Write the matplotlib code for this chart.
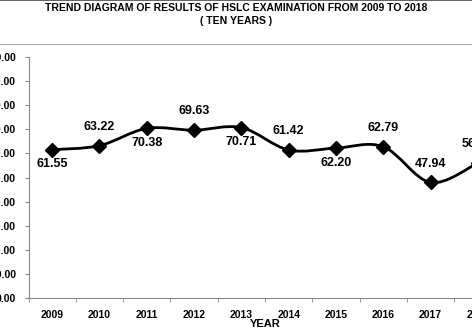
import matplotlib.pyplot as plt
import numpy as np
from matplotlib.path import Path
from matplotlib.patches import PathPatch, Rectangle

plt.rcParams['font.family'] = ['Liberation Sans', 'DejaVu Sans']

years = ['2009', '2010', '2011', '2012', '2013', '2014', '2015', '2016', '2017', '2018']
pass_pct = [61.55, 63.22, 70.38, 69.63, 70.71, 61.42, 62.20, 62.79, 47.94, 56.04]
label_above = [False, True, False, True, False, True, False, True, True, True]


def smooth_path(xs, ys, t=1 / 6):
    # cubic bezier through every point, tangents from neighbours
    n = len(xs)
    verts = [(xs[0], ys[0])]
    codes = [Path.MOVETO]
    for i in range(n - 1):
        x0, y0 = xs[max(i - 1, 0)], ys[max(i - 1, 0)]
        x1, y1 = xs[i], ys[i]
        x2, y2 = xs[i + 1], ys[i + 1]
        x3, y3 = xs[min(i + 2, n - 1)], ys[min(i + 2, n - 1)]
        c1 = (x1 + (x2 - x0) * t, y1 + (y2 - y0) * t)
        c2 = (x2 - (x3 - x1) * t, y2 - (y3 - y1) * t)
        verts += [c1, c2, (x2, y2)]
        codes += [Path.CURVE4] * 3
    return Path(verts, codes)


fig = plt.figure(figsize=(4.72, 3.32), dpi=100)

# rule under the heading and thin border at the top
fig.patches.append(Rectangle((0, 1 - 45 / 332), 1, 1.5 / 332, transform=fig.transFigure,
                             facecolor='#a8a8a8', edgecolor='none', figure=fig))
fig.patches.append(Rectangle((0, 1 - 1 / 332), 1, 1 / 332, transform=fig.transFigure,
                             facecolor='#666666', edgecolor='none', figure=fig))

# plot area runs past the right edge of the sheet
ax = fig.add_axes([28.5 / 472, 34 / 332, 473 / 472, 241 / 332])

x = np.arange(len(years))
ax.add_patch(PathPatch(smooth_path(x, pass_pct), fill=False, lw=2, color='black'))
ax.plot(x, pass_pct, ls='none', marker='D', ms=7, color='black')

for xi, v, up in zip(x, pass_pct, label_above):
    ax.annotate(f'{v:.2f}', (xi, v), xytext=(0, 13.5 if up else -10.5),
                textcoords='offset points', ha='center', va='center',
                fontsize=9, fontweight='bold')

ax.set_xlim(-0.5, len(years) - 0.5)
ax.set_ylim(0, 100)
ax.set_yticks(np.arange(0, 101, 10))
ax.set_yticklabels([f'{v:.2f}' for v in np.arange(0, 101, 10)], fontsize=7.5, fontweight='bold')
ax.set_xticks(x)
ax.set_xticklabels(years, fontsize=7.5, fontweight='bold')
ax.set_xticks(np.arange(-0.5, len(years)), minor=True)
ax.tick_params(axis='x', which='major', length=0, pad=9)
ax.tick_params(axis='x', which='minor', length=3, color='#888888')
ax.tick_params(axis='y', length=3, color='#888888', pad=6)
ax.set_xlabel('YEAR', fontsize=8, fontweight='bold', labelpad=-1)

for side in ['top', 'right']:
    ax.spines[side].set_visible(False)
ax.spines['left'].set_color('#888888')
ax.spines['bottom'].set_color('#888888')

fig.text(0.5, 1 - 8 / 332, 'TREND DIAGRAM OF RESULTS OF HSLC EXAMINATION FROM 2009 TO 2018',
         ha='center', va='center', fontsize=7.5, fontweight='bold')
fig.text(0.5, 1 - 21 / 332, '( TEN YEARS )', ha='center', va='center',
         fontsize=7.5, fontweight='bold')

fig.savefig('out.png', dpi=100)
